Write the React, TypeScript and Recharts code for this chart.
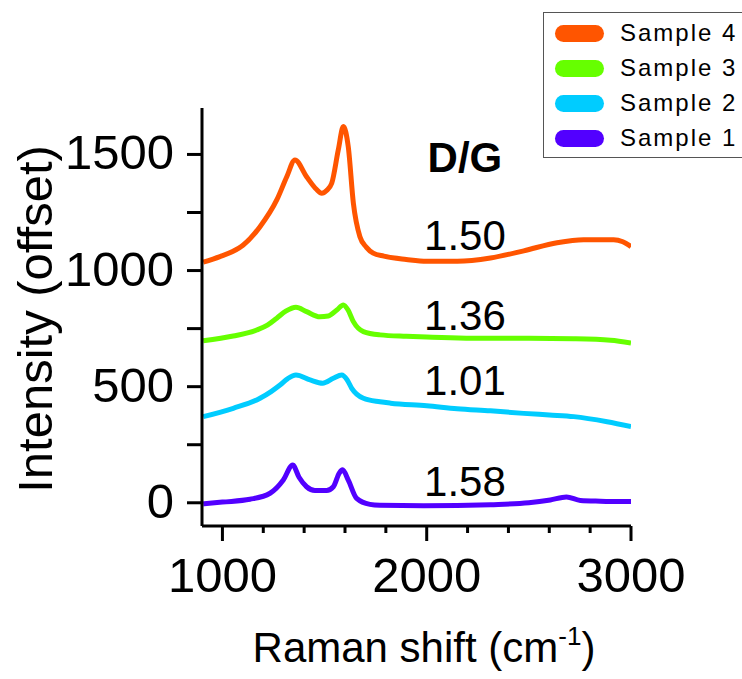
import { LineChart, Line, XAxis, YAxis, ReferenceDot } from "recharts";

const FONT = "Arial, 'Liberation Sans', Helvetica, sans-serif";

// Raman spectra, each point is [shift (cm-1), intensity with offset]
const sample1: [number, number][] = [
  [906, -5], [1000, 3], [1135, 15], [1233, 41], [1298, 98], [1344, 163],
  [1375, 110], [1412, 69], [1453, 53], [1510, 53], [1543, 69], [1572, 128],
  [1588, 142], [1616, 98], [1657, 19], [1722, -7], [1771, -11], [1986, -13],
  [2312, -8], [2500, 0], [2605, 12], [2684, 25], [2752, 10], [2850, 7], [3000, 5],
];

const sample2: [number, number][] = [
  [906, 371], [1053, 407], [1184, 450], [1240, 480], [1282, 507], [1320, 535],
  [1360, 550], [1429, 529], [1491, 515], [1543, 536], [1584, 550], [1610, 530],
  [1633, 493], [1690, 450], [1771, 435], [1823, 429], [2000, 418], [2149, 405],
  [2312, 396], [2475, 385], [2600, 378], [2720, 371], [2883, 349], [3000, 328],
];

const sample3: [number, number][] = [
  [906, 698], [1053, 718], [1168, 744], [1220, 765], [1266, 795], [1310, 825],
  [1360, 842], [1412, 823], [1477, 801], [1518, 804], [1560, 830], [1592, 852],
  [1615, 830], [1641, 780], [1690, 737], [1771, 723], [1900, 717], [2000, 714],
  [2312, 708], [2500, 708], [2720, 706], [2900, 700], [3000, 688],
];

const sample4: [number, number][] = [
  [906, 1036], [988, 1060], [1050, 1082], [1102, 1110], [1184, 1189], [1266, 1304],
  [1315, 1404], [1355, 1476], [1412, 1404], [1460, 1350], [1486, 1333], [1510, 1345],
  [1535, 1376], [1567, 1519], [1592, 1620], [1616, 1533], [1641, 1290], [1673, 1146],
  [1705, 1100], [1738, 1075], [1790, 1062], [1900, 1048], [2000, 1040], [2150, 1040],
  [2312, 1054], [2475, 1085], [2638, 1120], [2768, 1133], [2915, 1133], [2960, 1124],
  [3000, 1103],
];

const seriesNames = ["Sample 1", "Sample 2", "Sample 3", "Sample 4"];
const seriesColors = ["#5200ff", "#00ccff", "#66ff00", "#ff5500"];
const seriesData = [sample1, sample2, sample3, sample4];

// D/G intensity ratios written next to each spectrum
const dgRatios = ["1.58", "1.01", "1.36", "1.50"];
const dgLabelY = [92, 529, 807, 1153];
const dgHeaderY = 1489;
const dgLabelX = 2187;

const xTicks = [1000, 1200, 1400, 1600, 1800, 2000, 2200, 2400, 2600, 2800, 3000];
const xLabelled = [1000, 2000, 3000];
const yTicks = [0, 250, 500, 750, 1000, 1250, 1500];
const yLabelled = [0, 500, 1000, 1500];

const W = 742;
const H = 679;
const MARGIN = { top: 108, right: 111, bottom: 93, left: 102 };
const X_AXIS_H = 60;
const Y_AXIS_W = 100;
const PLOT_LEFT = MARGIN.left + Y_AXIS_W;
const PLOT_BOTTOM = H - MARGIN.bottom - X_AXIS_H;

const toPoints = (rows: [number, number][]) =>
  rows.map(([shift, intensity]) => ({ shift, intensity }));

const XTick = ({ x, payload }: any) => {
  const v = payload.value;
  const major = xLabelled.includes(v);
  return (
    <g>
      <line
        x1={x}
        x2={x}
        y1={PLOT_BOTTOM}
        y2={PLOT_BOTTOM + (major ? 15 : 7)}
        stroke="#000"
        strokeWidth={3}
      />
      {major && (
        <text
          x={x}
          y={PLOT_BOTTOM + 66}
          textAnchor="middle"
          fontSize={49}
          fontFamily={FONT}
          fill="#000"
        >
          {v}
        </text>
      )}
    </g>
  );
};

const YTick = ({ y, payload }: any) => {
  const v = payload.value;
  if (!yLabelled.includes(v)) return <g />;
  return (
    <text
      x={PLOT_LEFT - 28}
      y={y + 15}
      textAnchor="end"
      fontSize={49}
      fontFamily={FONT}
      fill="#000"
    >
      {v}
    </text>
  );
};

const YTitle = () => (
  <text
    x={52}
    y={319}
    transform="rotate(-90, 52, 319)"
    textAnchor="middle"
    fontSize={49}
    fontFamily={FONT}
    fill="#000"
  >
    Intensity (offset)
  </text>
);

const XTitle = () => (
  <text x={424} y={662} textAnchor="middle" fontSize={42} fontFamily={FONT} fill="#000">
    Raman shift (cm
    <tspan fontSize={26} dy={-17}>-1</tspan>
    <tspan dy={17}>)</tspan>
  </text>
);

const SpectraLegend = () => (
  <div
    style={{
      position: "absolute",
      left: 543,
      top: 12,
      width: 220,
      height: 144,
      border: "1.5px solid #555",
      background: "#fff",
      fontFamily: FONT,
    }}
  >
    {[3, 2, 1, 0].map((i, row) => (
      <div
        key={seriesNames[i]}
        style={{
          position: "absolute",
          left: 11,
          top: 11 + row * 35,
          height: 18,
          display: "flex",
          alignItems: "center",
        }}
      >
        <div
          style={{
            width: 49,
            height: 17,
            borderRadius: 9,
            background: seriesColors[i],
          }}
        />
        <span
          style={{
            marginLeft: 16,
            fontSize: 24,
            letterSpacing: 2,
            lineHeight: "18px",
            color: "#000",
            whiteSpace: "nowrap",
          }}
        >
          {seriesNames[i]}
        </span>
      </div>
    ))}
  </div>
);

export default function App() {
  return (
    <div
      style={{
        position: "absolute",
        left: 0,
        top: 0,
        width: W,
        height: H,
        overflow: "hidden",
        background: "#fff",
      }}
    >
      <LineChart width={W} height={H} margin={MARGIN}>
        <XAxis
          dataKey="shift"
          type="number"
          domain={[900, 3000]}
          ticks={xTicks}
          interval={0}
          allowDataOverflow
          height={X_AXIS_H}
          axisLine={{ stroke: "#000", strokeWidth: 3 }}
          tickLine={false}
          tick={<XTick />}
          label={{ content: <XTitle /> }}
        />
        <YAxis
          type="number"
          domain={[-100, 1700]}
          ticks={yTicks}
          interval={0}
          allowDataOverflow
          width={Y_AXIS_W}
          stroke="#000"
          axisLine={{ stroke: "#000", strokeWidth: 3 }}
          tickLine={{ stroke: "#000", strokeWidth: 3 }}
          tickSize={15}
          tick={<YTick />}
          label={{ content: <YTitle /> }}
        />
        {seriesData.map((rows, i) => (
          <Line
            key={seriesNames[i]}
            data={toPoints(rows)}
            dataKey="intensity"
            name={seriesNames[i]}
            type="monotone"
            stroke={seriesColors[i]}
            strokeWidth={5}
            dot={false}
            isAnimationActive={false}
          />
        ))}
        <ReferenceDot
          x={dgLabelX}
          y={dgHeaderY}
          r={0}
          fill="none"
          stroke="none"
          ifOverflow="visible"
          label={{
            value: "D/G",
            position: "center",
            fontSize: 42,
            fontWeight: "bold",
            fontFamily: FONT,
            fill: "#000",
          }}
        />
        {dgRatios.map((ratio, i) => (
          <ReferenceDot
            key={ratio + i}
            x={dgLabelX}
            y={dgLabelY[i]}
            r={0}
            fill="none"
            stroke="none"
            ifOverflow="visible"
            label={{
              value: ratio,
              position: "center",
              fontSize: 42,
              fontFamily: FONT,
              fill: "#000",
            }}
          />
        ))}
      </LineChart>
      <SpectraLegend />
    </div>
  );
}
